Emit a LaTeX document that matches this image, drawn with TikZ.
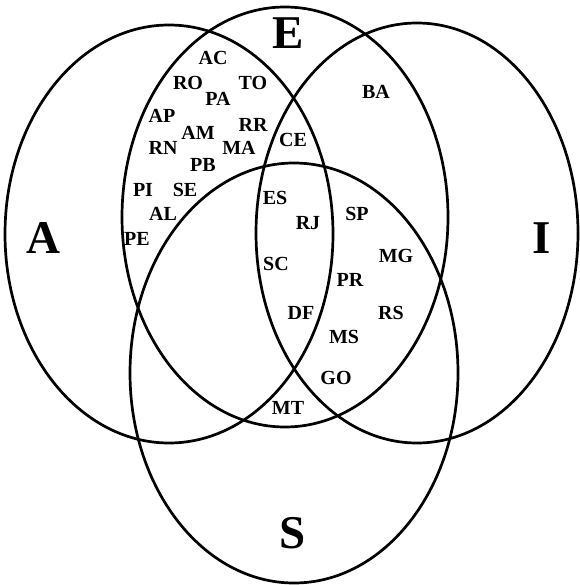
\documentclass[tikz,border=0pt]{standalone}
\usepackage{fontspec}
\setmainfont{Liberation Serif}
\usetikzlibrary{positioning}

\begin{document}
\begin{tikzpicture}[x=1pt,y=-1pt,line width=2.7pt,
  uf/.style={font=\fontsize{20}{20}\selectfont\bfseries,inner sep=0pt},
  setname/.style={font=\fontsize{47}{47}\selectfont\bfseries,inner sep=0pt}]
  \useasboundingbox (0,0) rectangle (579,585);
  % the four sets
  \draw (169,234) ellipse (164 and 209);
  \draw (285,217) ellipse (163 and 210);
  \draw (417,233) ellipse (161 and 210);
  \draw (294,373) ellipse (164 and 210);
  \node[setname] (setA) at (43,238) {A};
  \node[setname] (setE) at (288,33) {E};
  \node[setname] (setI) at (542,238) {I};
  \node[setname] (setS) at (293,533) {S};
  % A and E
  \node[uf] (ac) at (213,58) {AC};
  \node[uf] (ro) at (188,83) {RO};
  \node[uf] (to) at (253,83) {TO};
  \node[uf] (pa) at (218,99) {PA};
  \node[uf] (ap) at (162,116) {AP};
  \node[uf] (rr) at (253,125) {RR};
  \node[uf] (am) at (198,133) {AM};
  \node[uf] (rn) at (163,148) {RN};
  \node[uf] (ma) at (239,148) {MA};
  \node[uf] (pb) at (203,165) {PB};
  \node[uf] (pi) at (143,190) {PI};
  \node[uf] (se) at (185,190) {SE};
  \node[uf] (al) at (163,214) {AL};
  \node[uf] (pe) at (137,239) {PE};
  % A, E and I
  \node[uf] (ce) at (293,140) {CE};
  % E and I
  \node[uf] (ba) at (376,92) {BA};
  % A, E, I and S
  \node[uf] (es) at (275,198) {ES};
  \node[uf] (rj) at (308,223) {RJ};
  \node[uf] (sc) at (276,264) {SC};
  \node[uf] (df) at (301,313) {DF};
  % E, I and S
  \node[uf] (sp) at (357,214) {SP};
  \node[uf] (mg) at (396,256) {MG};
  \node[uf] (pr) at (350,280) {PR};
  \node[uf] (rs) at (391,313) {RS};
  \node[uf] (ms) at (344,337) {MS};
  % I and S
  \node[uf] (go) at (336,378) {GO};
  % A, I and S
  \node[uf] (mt) at (288,408) {MT};
\end{tikzpicture}
\end{document}
